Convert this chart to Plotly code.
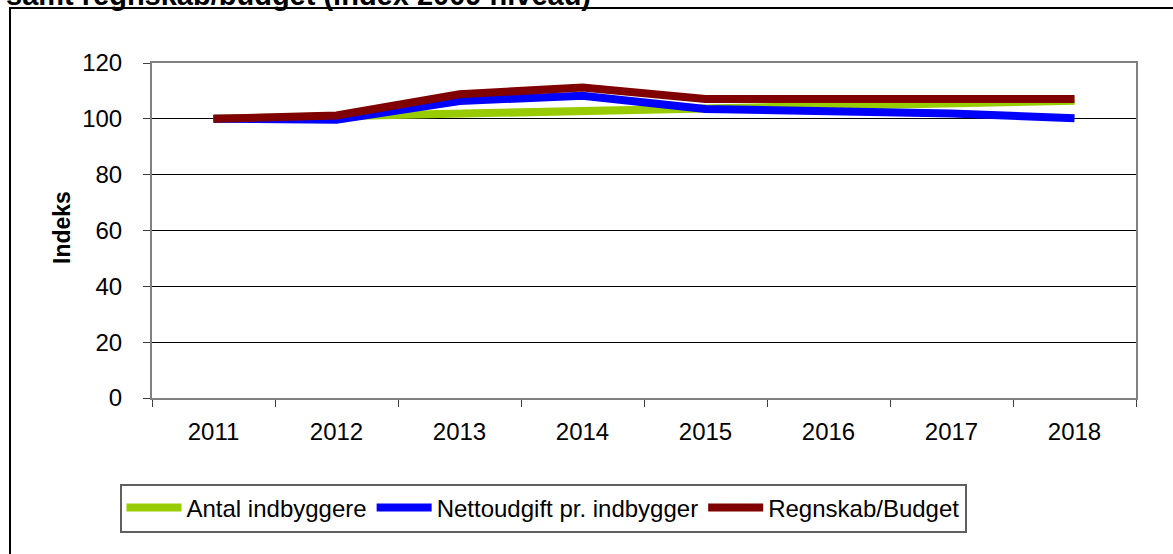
import plotly.graph_objects as go

# Index series (2011 = 100)
years = ["2011", "2012", "2013", "2014", "2015", "2016", "2017", "2018"]
antal_indbyggere = [100, 101, 102, 102.9, 104.0, 105.0, 105.6, 106.5]
nettoudgift = [100, 99.7, 106.4, 108.3, 103.5, 103.0, 101.9, 100.2]
regnskab_budget = [100, 101.2, 108.8, 111.2, 107.1, 107.1, 107.1, 107.1]

series_names = ["Antal indbyggere", "Nettoudgift pr. indbygger", "Regnskab/Budget"]
series_colors = ["#99CC00", "#0000FF", "#800000"]
y_ticks = [0, 20, 40, 60, 80, 100, 120]

FONT = "Liberation Sans, Arial, sans-serif"

W, H = 1173, 554
L, R, T, B = 152, 37, 63, 156
pw, ph = W - L - R, H - T - B


def px_x(p):
    return (p - L) / pw


def px_y(p):
    return (H - B - p) / ph


fig = go.Figure()
for name, vals, col in zip(series_names, [antal_indbyggere, nettoudgift, regnskab_budget], series_colors):
    fig.add_trace(go.Scatter(
        x=years, y=vals, name=name, mode="lines",
        line=dict(color=col, width=8),
    ))

fig.update_layout(
    width=W, height=H,
    margin=dict(l=L, r=R, t=T, b=B),
    paper_bgcolor="white", plot_bgcolor="white",
    font=dict(family=FONT, size=24, color="black"),
    showlegend=True,
    legend=dict(
        orientation="h", x=px_x(543), xanchor="center",
        y=px_y(508), yanchor="middle",
        bordercolor="#606060", borderwidth=2, bgcolor="white",
        font=dict(family=FONT, size=24, color="black"),
        itemwidth=55, tracegroupgap=0,
    ),
    xaxis=dict(
        type="category", range=[-0.5, len(years) - 0.5], tickson="boundaries",
        showgrid=False, showline=True, linecolor="#808080", linewidth=2,
        mirror=True, ticks="outside", ticklen=7, tickcolor="#404040",
        tickfont=dict(size=24), ticklabelstandoff=11,
    ),
    yaxis=dict(
        range=[0, 120], tickvals=y_ticks,
        showgrid=True, gridcolor="black", gridwidth=1,
        zeroline=False, showline=True, linecolor="#808080", linewidth=2,
        mirror=True, ticks="outside", ticklen=7, tickcolor="#404040",
        tickfont=dict(size=24), ticklabelstandoff=16,
    ),
    shapes=[
        # outer chart frame
        dict(type="rect", xref="paper", yref="paper",
             x0=px_x(10), x1=px_x(1190), y0=px_y(8), y1=px_y(580),
             line=dict(color="black", width=2), fillcolor="rgba(0,0,0,0)",
             layer="below"),
    ],
    annotations=[
        dict(text="Indeks", xref="paper", yref="paper",
             x=px_x(62), y=px_y(228), xanchor="center", yanchor="middle",
             textangle=-90, showarrow=False,
             font=dict(family=FONT, size=23, color="black", weight="bold")),
        dict(text="samt regnskab/budget (index 2009 niveau)", xref="paper", yref="paper",
             x=px_x(4), y=px_y(13), xanchor="left", yanchor="bottom",
             showarrow=False,
             font=dict(family=FONT, size=29, color="black", weight="bold")),
    ],
)

fig.write_html("out.html")
